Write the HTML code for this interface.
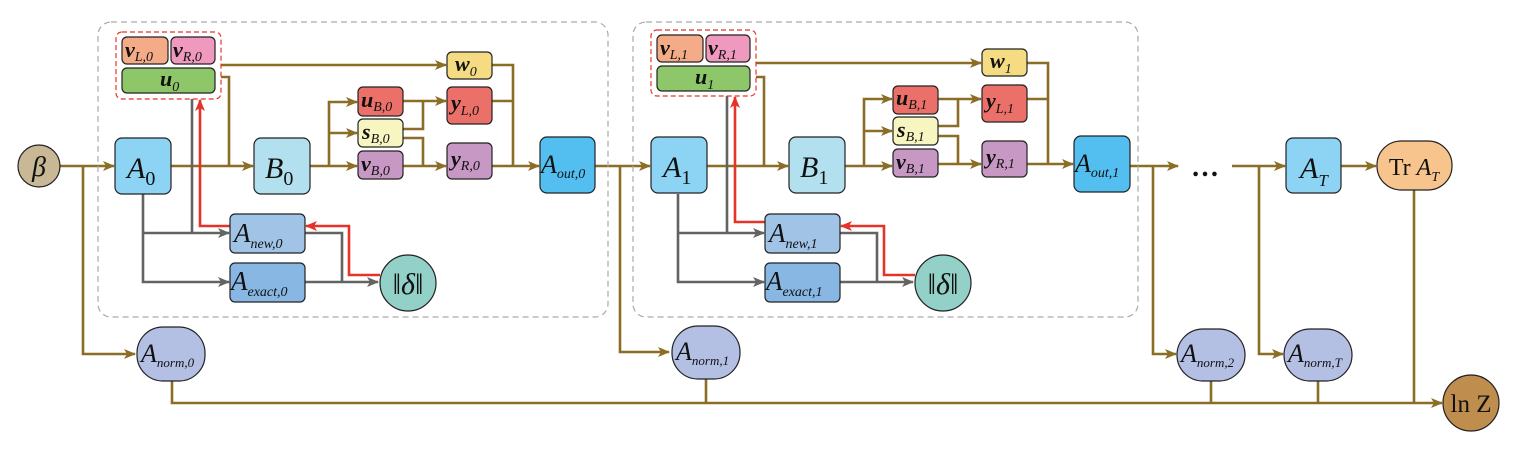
<!DOCTYPE html>
<html><head><meta charset="utf-8"><style>
html,body{margin:0;padding:0;background:#fff;}
svg{display:block;}
text{font-family:"Liberation Serif","DejaVu Serif",serif;font-style:italic;fill:#111;}
.g{stroke:#8c6d25;stroke-width:2.6;fill:none;}
.k{stroke:#636363;stroke-width:2.6;fill:none;}
.r{stroke:#e63329;stroke-width:2.6;fill:none;}
.b{stroke:#222;stroke-width:1.2;}
.big{font-size:30px;}
.sm{font-size:22px;font-weight:bold;}
.sub{font-size:14px;font-weight:normal;}
.subb{font-size:20px;font-style:normal;}
</style></head><body>
<svg width="1513" height="450" viewBox="0 0 1513 450" xmlns="http://www.w3.org/2000/svg">
<defs>
<marker id="ag" markerWidth="12" markerHeight="10" refX="11" refY="5" orient="auto" markerUnits="userSpaceOnUse"><path d="M0,0 L12,5 L0,10 L3,5 Z" fill="#8c6d25"/></marker>
<marker id="ak" markerWidth="12" markerHeight="10" refX="11" refY="5" orient="auto" markerUnits="userSpaceOnUse"><path d="M0,0 L12,5 L0,10 L3,5 Z" fill="#636363"/></marker>
<marker id="ar" markerWidth="12" markerHeight="10" refX="11" refY="5" orient="auto" markerUnits="userSpaceOnUse"><path d="M0,0 L12,5 L0,10 L3,5 Z" fill="#e63329"/></marker>
</defs>

<path class="g" d="M60,166 H114" marker-end="url(#ag)"/>
<path class="g" d="M83,166 V354 H135" marker-end="url(#ag)"/>
<path class="g" d="M595,166 H650" marker-end="url(#ag)"/>
<path class="g" d="M620,166 V352 H669" marker-end="url(#ag)"/>
<path class="g" d="M1130,166 H1178" marker-end="url(#ag)"/>
<path class="g" d="M1153,166 V354 H1176" marker-end="url(#ag)"/>
<path class="g" d="M1232,166 H1285" marker-end="url(#ag)"/>
<path class="g" d="M1259,166 V354 H1283" marker-end="url(#ag)"/>
<path class="g" d="M1341,166 H1376" marker-end="url(#ag)"/>
<path class="g" d="M172,380 V403 H1442" marker-end="url(#ag)"/>
<path class="g" d="M706,378 V403"/>
<path class="g" d="M1211,380 V403"/>
<path class="g" d="M1318,380 V403"/>
<path class="g" d="M1414,190 V403"/>

<ellipse cx="39" cy="166" rx="21" ry="21" fill="#c8b896" class="b"/>
<text x="39" y="176" text-anchor="middle" style="font-size:28px">β</text>

<text x="1205" y="176" text-anchor="middle" style="font-style:normal;font-size:28px;font-weight:bold">…</text>

<rect x="1286" y="138" width="55" height="55" rx="7" fill="#8dd3f4" class="b"/>
<text x="1300" y="178" class="big">A<tspan style="font-size:17px" dy="8">T</tspan></text>
<rect x="1377" y="141" width="75" height="49" rx="24" fill="#f6c48c" class="b"/>
<text x="1414" y="175" text-anchor="middle" style="font-size:24px"><tspan style="font-style:normal">Tr </tspan>A<tspan style="font-size:14px" dy="6">T</tspan></text>

<rect x="137" y="327" width="68" height="54" rx="26" fill="#b3bfe3" class="b"/>
<text x="141" y="362" style="font-size:26px">A<tspan style="font-size:13px" dy="5">norm,0</tspan></text>
<rect x="672" y="326" width="68" height="53" rx="26" fill="#b3bfe3" class="b"/>
<text x="676" y="360" style="font-size:26px">A<tspan style="font-size:13px" dy="5">norm,1</tspan></text>
<rect x="1177" y="329" width="68" height="52" rx="26" fill="#b3bfe3" class="b"/>
<text x="1181" y="362" style="font-size:26px">A<tspan style="font-size:13px" dy="5">norm,2</tspan></text>
<rect x="1284" y="329" width="68" height="52" rx="26" fill="#b3bfe3" class="b"/>
<text x="1288" y="362" style="font-size:26px">A<tspan style="font-size:13px" dy="5">norm,T</tspan></text>
<circle cx="1471" cy="403" r="28" fill="#bf8d4e" class="b"/>
<text x="1471" y="412" text-anchor="middle" style="font-style:normal;font-size:25px">ln Z</text>

<!-- BLOCK 0 -->
<g>
<rect x="98" y="22" width="510" height="295" rx="13" fill="none" stroke="#aaa" stroke-width="1.2" stroke-dasharray="6,4"/>
<path class="g" d="M171,166 H253" marker-end="url(#ag)"/>
<path class="g" d="M221,77 H229 V166"/>
<path class="g" d="M221,65 H446" marker-end="url(#ag)"/>
<path class="g" d="M310,166 H357" marker-end="url(#ag)"/>
<path class="g" d="M329,166 V102 H357" marker-end="url(#ag)"/>
<path class="g" d="M329,133 H357" marker-end="url(#ag)"/>
<path class="g" d="M403,101 H446" marker-end="url(#ag)"/>
<path class="g" d="M403,129 H423 V101"/>
<path class="g" d="M403,138 H423 V166"/>
<path class="g" d="M403,166 H446" marker-end="url(#ag)"/>
<path class="g" d="M492,65 H513 V166"/>
<path class="g" d="M492,101 H513"/>
<path class="g" d="M492,166 H539" marker-end="url(#ag)"/>
<path class="k" d="M143,194 V282 H229" marker-end="url(#ak)"/>
<path class="k" d="M143,233 H229" marker-end="url(#ak)"/>
<path class="k" d="M192,99 V233"/>
<path class="k" d="M305,233 H342 V282"/>
<path class="k" d="M305,282 H378" marker-end="url(#ak)"/>
<path class="r" d="M380,275 H349 V226 H306" marker-end="url(#ar)"/>
<path class="r" d="M230,226 H200 V100" marker-end="url(#ar)"/>

<rect x="116" y="32" width="105" height="67" rx="6" fill="none" stroke="#e63329" stroke-width="1.2" stroke-dasharray="5,3"/>
<rect x="122" y="37" width="46" height="27" rx="5" fill="#f4ab87" class="b"/>
<text x="125" y="57" class="sm">v<tspan class="sub" dy="4">L,0</tspan></text>
<rect x="171" y="37" width="44" height="27" rx="5" fill="#f099bf" class="b"/>
<text x="173" y="57" class="sm">v<tspan class="sub" dy="4">R,0</tspan></text>
<rect x="122" y="68" width="93" height="25" rx="5" fill="#8dc76a" class="b"/>
<text x="160" y="86" class="sm">u<tspan class="sub" dy="5">0</tspan></text>

<rect x="115" y="138" width="56" height="56" rx="7" fill="#8dd3f4" class="b"/>
<text x="127" y="178" class="big">A<tspan class="subb" dy="7">0</tspan></text>
<rect x="254" y="138" width="56" height="56" rx="7" fill="#b3e0ee" class="b"/>
<text x="265" y="178" class="big">B<tspan class="subb" dy="7">0</tspan></text>

<rect x="358" y="87" width="45" height="29" rx="5" fill="#ec706a" class="b"/>
<text x="361" y="107" class="sm">u<tspan class="sub" dy="4">B,0</tspan></text>
<rect x="358" y="119" width="45" height="28" rx="5" fill="#f8f6c0" class="b"/>
<text x="362" y="139" class="sm">s<tspan class="sub" dy="4">B,0</tspan></text>
<rect x="358" y="151" width="45" height="28" rx="5" fill="#c898c4" class="b"/>
<text x="361" y="171" class="sm">v<tspan class="sub" dy="4">B,0</tspan></text>

<rect x="447" y="52" width="45" height="27" rx="5" fill="#f5dc82" class="b"/>
<text x="455" y="71" class="sm">w<tspan class="sub" dy="5">0</tspan></text>
<rect x="447" y="87" width="45" height="37" rx="5" fill="#ec706a" class="b"/>
<text x="451" y="110" class="sm">y<tspan class="sub" dy="5">L,0</tspan></text>
<rect x="447" y="143" width="45" height="36" rx="5" fill="#c898c4" class="b"/>
<text x="451" y="166" class="sm">y<tspan class="sub" dy="4">R,0</tspan></text>

<rect x="540" y="137" width="55" height="56" rx="7" fill="#53bff0" class="b"/>
<text x="541" y="173" style="font-size:26px">A<tspan style="font-size:14px" dy="5">out,0</tspan></text>

<rect x="230" y="214" width="75" height="39" rx="5" fill="#a0c3e6" class="b"/>
<text x="234" y="242" style="font-size:27px">A<tspan style="font-size:14px" dy="6">new,0</tspan></text>
<rect x="230" y="263" width="75" height="39" rx="5" fill="#87b7e2" class="b"/>
<text x="231" y="290" style="font-size:27px">A<tspan style="font-size:14px" dy="6">exact,0</tspan></text>
<ellipse cx="408" cy="283" rx="28" ry="28" fill="#92d0c8" class="b"/>
<text x="408" y="294" text-anchor="middle" style="font-size:30px"><tspan style="font-style:normal">‖</tspan>δ<tspan style="font-style:normal">‖</tspan></text>
</g>

<!-- BLOCK 1 -->
<g transform="translate(535,0)">
<rect x="98" y="22" width="505" height="295" rx="13" fill="none" stroke="#aaa" stroke-width="1.2" stroke-dasharray="6,4"/>
<path class="g" d="M171,166 H253" marker-end="url(#ag)"/>
<path class="g" d="M221,77 H229 V166"/>
<path class="g" d="M221,63 H446" marker-end="url(#ag)"/>
<path class="g" d="M310,166 H357" marker-end="url(#ag)"/>
<path class="g" d="M329,166 V99 H357" marker-end="url(#ag)"/>
<path class="g" d="M329,131 H357" marker-end="url(#ag)"/>
<path class="g" d="M403,99 H446" marker-end="url(#ag)"/>
<path class="g" d="M403,126 H423 V99"/>
<path class="g" d="M403,136 H423 V164"/>
<path class="g" d="M403,164 H446" marker-end="url(#ag)"/>
<path class="g" d="M492,63 H513 V164"/>
<path class="g" d="M492,99 H513"/>
<path class="g" d="M492,164 H538" marker-end="url(#ag)"/>
<path class="k" d="M143,194 V282 H229" marker-end="url(#ak)"/>
<path class="k" d="M143,233 H229" marker-end="url(#ak)"/>
<path class="k" d="M192,96 V233"/>
<path class="k" d="M305,233 H342 V282"/>
<path class="k" d="M305,282 H378" marker-end="url(#ak)"/>
<path class="r" d="M380,275 H349 V226 H306" marker-end="url(#ar)"/>
<path class="r" d="M230,222 H200 V97" marker-end="url(#ar)"/>

<rect x="116" y="30" width="105" height="66" rx="6" fill="none" stroke="#e63329" stroke-width="1.2" stroke-dasharray="5,3"/>
<rect x="122" y="35" width="46" height="27" rx="5" fill="#f4ab87" class="b"/>
<text x="125" y="55" class="sm">v<tspan class="sub" dy="4">L,1</tspan></text>
<rect x="171" y="35" width="44" height="27" rx="5" fill="#f099bf" class="b"/>
<text x="173" y="55" class="sm">v<tspan class="sub" dy="4">R,1</tspan></text>
<rect x="122" y="66" width="93" height="25" rx="5" fill="#8dc76a" class="b"/>
<text x="160" y="84" class="sm">u<tspan class="sub" dy="5">1</tspan></text>

<rect x="116" y="137" width="56" height="56" rx="7" fill="#8dd3f4" class="b"/>
<text x="128" y="177" class="big">A<tspan class="subb" dy="7">1</tspan></text>
<rect x="254" y="137" width="56" height="56" rx="7" fill="#b3e0ee" class="b"/>
<text x="265" y="177" class="big">B<tspan class="subb" dy="7">1</tspan></text>

<rect x="358" y="86" width="45" height="28" rx="5" fill="#ec706a" class="b"/>
<text x="361" y="105" class="sm">u<tspan class="sub" dy="4">B,1</tspan></text>
<rect x="358" y="117" width="45" height="28" rx="5" fill="#f8f6c0" class="b"/>
<text x="362" y="137" class="sm">s<tspan class="sub" dy="4">B,1</tspan></text>
<rect x="358" y="149" width="45" height="28" rx="5" fill="#c898c4" class="b"/>
<text x="361" y="169" class="sm">v<tspan class="sub" dy="4">B,1</tspan></text>

<rect x="447" y="49" width="45" height="27" rx="5" fill="#f5dc82" class="b"/>
<text x="455" y="68" class="sm">w<tspan class="sub" dy="5">1</tspan></text>
<rect x="447" y="85" width="45" height="37" rx="5" fill="#ec706a" class="b"/>
<text x="451" y="108" class="sm">y<tspan class="sub" dy="5">L,1</tspan></text>
<rect x="447" y="141" width="45" height="36" rx="5" fill="#c898c4" class="b"/>
<text x="451" y="164" class="sm">y<tspan class="sub" dy="4">R,1</tspan></text>

<rect x="539" y="136" width="56" height="56" rx="7" fill="#53bff0" class="b"/>
<text x="540" y="172" style="font-size:26px">A<tspan style="font-size:14px" dy="5">out,1</tspan></text>

<rect x="230" y="214" width="75" height="39" rx="5" fill="#a0c3e6" class="b"/>
<text x="234" y="242" style="font-size:27px">A<tspan style="font-size:14px" dy="6">new,1</tspan></text>
<rect x="230" y="263" width="75" height="39" rx="5" fill="#87b7e2" class="b"/>
<text x="231" y="290" style="font-size:27px">A<tspan style="font-size:14px" dy="6">exact,1</tspan></text>
<ellipse cx="408" cy="283" rx="28" ry="28" fill="#92d0c8" class="b"/>
<text x="408" y="294" text-anchor="middle" style="font-size:30px"><tspan style="font-style:normal">‖</tspan>δ<tspan style="font-style:normal">‖</tspan></text>
</g>
</svg>
</body></html>
